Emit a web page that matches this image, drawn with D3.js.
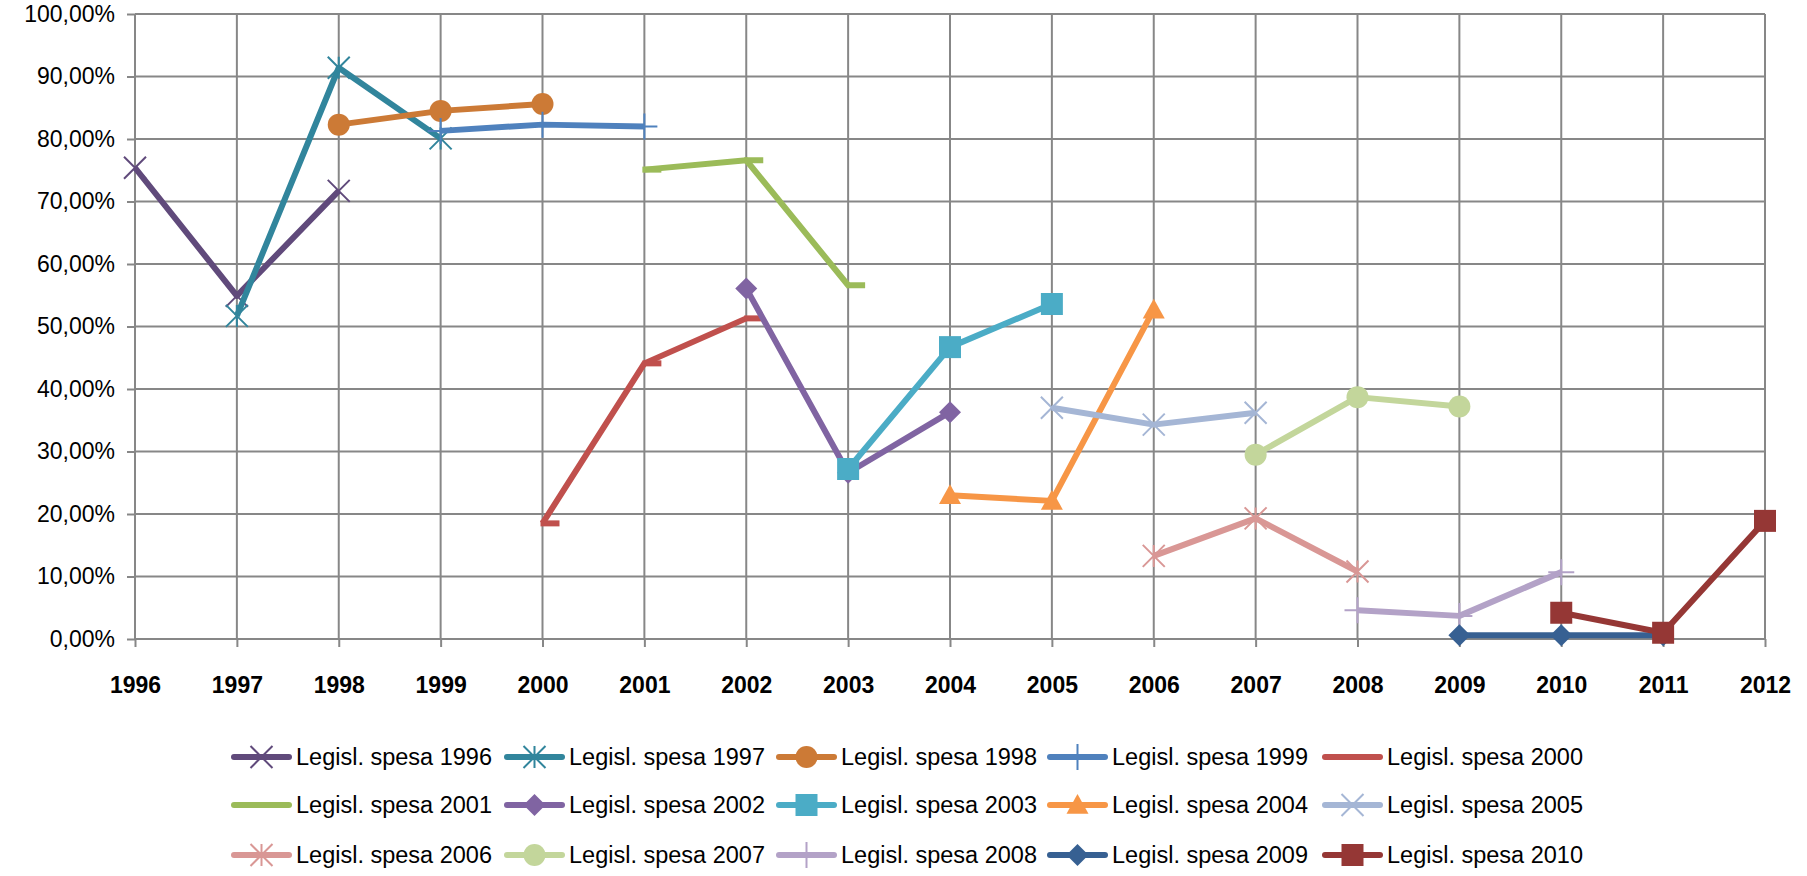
<!DOCTYPE html>
<html>
<head>
<meta charset="utf-8">
<script src="https://cdn.jsdelivr.net/npm/d3@7"></script>
<style>
  body { margin: 0; background: #fff; }
  svg { display: block; font-family: "Liberation Sans", Arial, sans-serif; }
</style>
</head>
<body>
<div id="chart"></div>
<script>
// category axis (years) and y ticks
const years = [1996, 1997, 1998, 1999, 2000, 2001, 2002, 2003, 2004, 2005, 2006, 2007, 2008, 2009, 2010, 2011, 2012];
const yTicks = [0, 10, 20, 30, 40, 50, 60, 70, 80, 90, 100];

// each series: [start year, values in %]
const seriesNames = ['Legisl. spesa 1996', 'Legisl. spesa 1997', 'Legisl. spesa 1998', 'Legisl. spesa 1999', 'Legisl. spesa 2000',
  'Legisl. spesa 2001', 'Legisl. spesa 2002', 'Legisl. spesa 2003', 'Legisl. spesa 2004', 'Legisl. spesa 2005',
  'Legisl. spesa 2006', 'Legisl. spesa 2007', 'Legisl. spesa 2008', 'Legisl. spesa 2009', 'Legisl. spesa 2010'];
const startYears = [1996, 1997, 1998, 1999, 2000, 2001, 2002, 2003, 2004, 2005, 2006, 2007, 2008, 2009, 2010];
const v1996 = [75.4, 54.9, 71.7];
const v1997 = [51.7, 91.4, 80.1];
const v1998 = [82.3, 84.5, 85.6];
const v1999 = [81.3, 82.3, 82.0];
const v2000 = [18.5, 44.1, 51.3];
const v2001 = [75.1, 76.6, 56.6];
const v2002 = [56.1, 26.6, 36.3];
const v2003 = [27.2, 46.7, 53.6];
const v2004 = [23.0, 22.1, 52.7];
const v2005 = [37.0, 34.3, 36.2];
const v2006 = [13.3, 19.3, 10.8];
const v2007 = [29.5, 38.7, 37.2];
const v2008 = [4.6, 3.7, 10.7];
const v2009 = [0.6, 0.6, 0.6];
const v2010 = [4.2, 1.0, 18.9];
const seriesValues = [v1996, v1997, v1998, v1999, v2000, v2001, v2002, v2003, v2004, v2005, v2006, v2007, v2008, v2009, v2010];
const colors = ['#604A7B', '#31859C', '#CC7A36', '#4F81BD', '#C0504D', '#9BBB59', '#8064A2', '#4BACC6', '#F79646', '#A5B6D5',
  '#D99795', '#C3D69B', '#B3A2C7', '#376092', '#953735'];
const markers = ['x', 'star', 'circle', 'plus', 'dash', 'dash', 'diamond', 'square', 'triangle', 'x',
  'star', 'circle', 'plus', 'diamond', 'square'];

const width = 1807, height = 876;
const margin = { top: 14, right: 42, bottom: 237, left: 135 };

const svg = d3.select('#chart').append('svg')
  .attr('width', width)
  .attr('height', height);

const x = d3.scaleLinear()
  .domain([1996, 2012])
  .range([margin.left, width - margin.right]);

const y = d3.scaleLinear()
  .domain([0, 100])
  .range([height - margin.bottom, margin.top]);

const gridColor = '#878787';

// horizontal grid + y axis
const yAxis = svg.append('g')
  .attr('transform', `translate(${margin.left},0)`)
  .call(d3.axisLeft(y).tickValues(yTicks).tickSize(8).tickPadding(12)
    .tickFormat(d => d3.format('.2f')(d).replace('.', ',') + '%'));
yAxis.select('.domain').remove();
yAxis.selectAll('line').attr('stroke', gridColor).attr('stroke-width', 2);
yAxis.selectAll('text').attr('font-size', 23).attr('fill', '#000');

svg.append('g')
  .selectAll('line')
  .data(yTicks)
  .join('line')
  .attr('x1', margin.left).attr('x2', width - margin.right)
  .attr('y1', d => y(d)).attr('y2', d => y(d))
  .attr('stroke', gridColor).attr('stroke-width', 2);

// vertical grid + x axis
const xAxis = svg.append('g')
  .attr('transform', `translate(0,${y(0)})`)
  .call(d3.axisBottom(x).tickValues(years).tickSize(8).tickPadding(30).tickFormat(d3.format('d')));
xAxis.select('.domain').remove();
xAxis.selectAll('line').attr('stroke', gridColor).attr('stroke-width', 2);
xAxis.selectAll('text').attr('font-size', 23).attr('font-weight', 'bold').attr('fill', '#000');

svg.append('g')
  .selectAll('line')
  .data(years)
  .join('line')
  .attr('x1', d => x(d)).attr('x2', d => x(d))
  .attr('y1', y(100)).attr('y2', y(0))
  .attr('stroke', gridColor).attr('stroke-width', 2);

// marker shapes
function markerPath(type, s) {
  const h = s / 2;
  switch (type) {
    case 'x': return `M${-h},${-h}L${h},${h}M${-h},${h}L${h},${-h}`;
    case 'plus': return `M${-h},0L${h},0M0,${-h}L0,${h}`;
    case 'star': return `M${-h},${-h}L${h},${h}M${-h},${h}L${h},${-h}M0,${-h}L0,${h}`;
    case 'dash': return `M-2,0L${h + 4},0`;
    case 'diamond': return `M0,${-h}L${h},0L0,${h}L${-h},0Z`;
    case 'square': return `M${-h},${-h}H${h}V${h}H${-h}Z`;
    case 'triangle': return `M0,${-h}L${h},${h * 0.8}L${-h},${h * 0.8}Z`;
    case 'circle': return d3.arc()({ innerRadius: 0, outerRadius: h, startAngle: 0, endAngle: 2 * Math.PI });
  }
}
const filled = t => ['diamond', 'square', 'triangle', 'circle'].includes(t);
function markerSize(t) {
  if (t === 'x' || t === 'star') return 22;
  if (t === 'plus') return 26;
  if (t === 'dash') return 26;
  return 22;
}
function markerStroke(t) {
  if (t === 'dash') return 6;
  return 2;
}

const line = d3.line().x(d => x(d.year)).y(d => y(d.value));

seriesNames.forEach((name, i) => {
  const pts = seriesValues[i].map((v, j) => ({ year: startYears[i] + j, value: v }));
  const g = svg.append('g');
  g.append('path')
    .datum(pts)
    .attr('d', line)
    .attr('fill', 'none')
    .attr('stroke', colors[i])
    .attr('stroke-width', 6)
    .attr('stroke-linejoin', 'round');
  g.selectAll('path.mk')
    .data(pts)
    .join('path')
    .attr('class', 'mk')
    .attr('transform', d => `translate(${x(d.year)},${y(d.value)})`)
    .attr('d', markerPath(markers[i], markerSize(markers[i])))
    .attr('fill', filled(markers[i]) ? colors[i] : 'none')
    .attr('stroke', colors[i])
    .attr('stroke-width', filled(markers[i]) ? 0 : markerStroke(markers[i]));
});

// legend
const legX = [234, 507, 779, 1050, 1325];
const legY = [757, 805, 855];
const legend = svg.append('g');
seriesNames.forEach((name, i) => {
  const lx = legX[i % 5], ly = legY[Math.floor(i / 5)];
  const g = legend.append('g').attr('transform', `translate(${lx},${ly})`);
  g.append('line')
    .attr('x1', 0).attr('x2', 55)
    .attr('stroke', colors[i]).attr('stroke-width', 6).attr('stroke-linecap', 'round');
  const mt = markers[i];
  if (mt !== 'dash') {
    g.append('path')
      .attr('transform', 'translate(27.5,0)')
      .attr('d', markerPath(mt, markerSize(mt)))
      .attr('fill', filled(mt) ? colors[i] : 'none')
      .attr('stroke', colors[i])
      .attr('stroke-width', filled(mt) ? 0 : 2);
  }
  g.append('text')
    .attr('x', 62).attr('y', 0).attr('dy', '0.35em')
    .attr('font-size', 23.5)
    .attr('fill', '#000')
    .text(name);
});
</script>
</body>
</html>
